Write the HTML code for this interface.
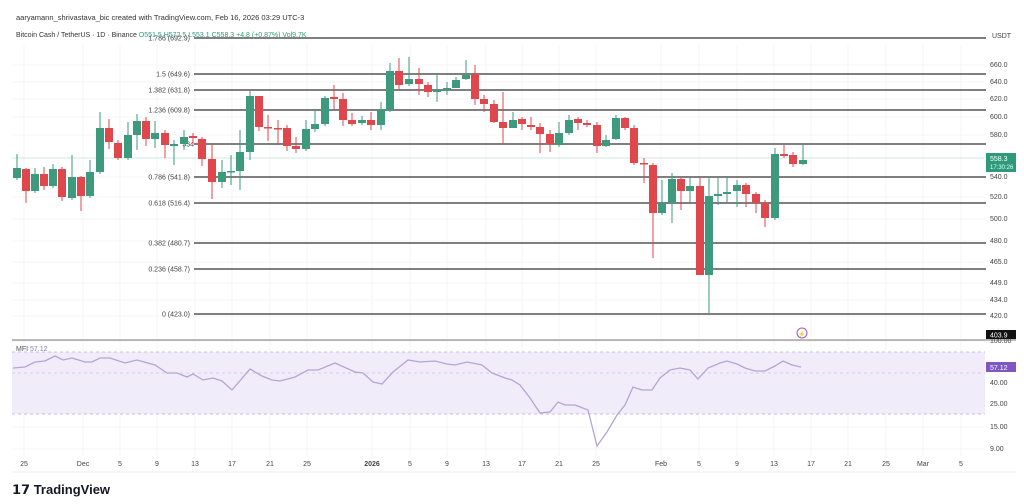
<!DOCTYPE html>
<html><head><meta charset="utf-8"><style>
body{margin:0;background:#fff;width:1024px;height:504px;overflow:hidden;font-family:"Liberation Sans",sans-serif}
svg{display:block}
text{font-family:"Liberation Sans",sans-serif}
</style></head><body>
<svg id="s" width="1024" height="504" viewBox="0 0 1024 504" xmlns="http://www.w3.org/2000/svg">
<rect width="1024" height="504" fill="#fff"/>
<g id="grid"></g>
<rect x="12" y="352" width="973" height="62" fill="#f1ecfa"/>
<line x1="12" y1="352" x2="985" y2="352" stroke="#b9a9d6" stroke-dasharray="3,3" stroke-width="0.8"/>
<line x1="12" y1="373" x2="985" y2="373" stroke="#cfc4e4" stroke-dasharray="3,3" stroke-width="0.8"/>
<line x1="12" y1="414" x2="985" y2="414" stroke="#b9a9d6" stroke-dasharray="3,3" stroke-width="0.8"/>
<line x1="12" y1="340" x2="1016" y2="340" stroke="#777" stroke-width="1"/>
<g id="fib"></g>
<g id="candles"></g>
<polyline id="mfi" fill="none" stroke="#b2a6d4" stroke-width="1.3"/>
<g id="axis" font-size="7" fill="#444"></g>
<text x="16" y="20" font-size="7.5" fill="#333">aaryamann_shrivastava_bic created with TradingView.com, Feb 16, 2026 03:29 UTC-3</text>
<text x="16" y="37" font-size="7" fill="#333">Bitcoin Cash / TetherUS · 1D · Binance <tspan fill="#2e9a7a">O551.5 H572.5 L553.1 C558.3 +4.8 (+0.87%) Vol9.7K</tspan></text>
<text x="16" y="351" font-size="7" fill="#555">MFI <tspan fill="#8a7cc0">57.12</tspan></text>
<circle cx="802" cy="333" r="5" fill="#fff" stroke="#9b59b6" stroke-width="1"/>
<text x="802" y="336" font-size="6" fill="#9b59b6" text-anchor="middle">⚡</text>
<rect x="986" y="153" width="30" height="19" fill="#2e9a7a"/>
<text x="990" y="161" font-size="7" fill="#fff">558.3</text>
<text x="990" y="169" font-size="6" fill="#dff">17:30:26</text>
<rect x="986" y="330" width="30" height="9" fill="#111"/>
<text x="990" y="337.5" font-size="7" fill="#fff">403.9</text>
<rect x="986" y="362" width="30" height="10" fill="#7e57c2"/>
<text x="990" y="370" font-size="7" fill="#fff">57.12</text>
<text x="12" y="494" font-size="13" font-weight="bold" fill="#131722">𝟭𝟳 TradingView</text>
</svg>
<script>
const NS="http://www.w3.org/2000/svg";
function el(p,t,a,txt){const e=document.createElementNS(NS,t);for(const k in a)e.setAttribute(k,a[k]);if(txt!==undefined)e.textContent=txt;document.getElementById(p).appendChild(e);return e;}
const dates=[[24,"25"],[83,"Dec"],[120,"5"],[157,"9"],[195,"13"],[232,"17"],[270,"21"],[307,"25"],[372,"2026"],[410,"5"],[447,"9"],[486,"13"],[522,"17"],[559,"21"],[596,"25"],[661,"Feb"],[699,"5"],[737,"9"],[774,"13"],[811,"17"],[848,"21"],[886,"25"],[923,"Mar"],[961,"5"]];
dates.forEach(d=>{el("grid","line",{x1:d[0],y1:45,x2:d[0],y2:456,stroke:"#f5f5f7","stroke-width":1});
el("axis","text",{x:d[0],y:466,"text-anchor":"middle","font-weight":d[1]=="2026"?"bold":"normal"},d[1]);});
const pr=[[67,"660.0"],[84,"640.0"],[101,"620.0"],[119,"600.0"],[137,"580.0"],[179,"540.0"],[199,"520.0"],[221,"500.0"],[243,"480.0"],[264,"465.0"],[285,"449.0"],[302,"434.0"],[318,"420.0"],[343,"100.00"],[385,"40.00"],[406,"25.00"],[429,"15.00"],[451,"9.00"]];
pr.forEach(p=>{el("grid","line",{x1:12,y1:p[0]-2,x2:985,y2:p[0]-2,stroke:"#f6f6f8","stroke-width":1});el("axis","text",{x:990,y:p[0]},p[1]);});
el("axis","text",{x:992,y:38},"USDT");
el("grid","line",{x1:12,y1:472,x2:1016,y2:472,stroke:"#eee"});
const fib=[[38,"1.786 (692.9)"],[74,"1.5 (649.6)"],[90,"1.382 (631.8)"],[110,"1.236 (609.8)"],[144,"(534?)"],[177,"0.786 (541.8)"],[203,"0.618 (516.4)"],[243,"0.382 (480.7)"],[269,"0.236 (458.7)"],[314,"0 (423.0)"]];
fib.forEach(f=>{el("fib","line",{x1:194,y1:f[0],x2:986,y2:f[0],stroke:"#333","stroke-width":1.3});
el("fib","text",{x:f[1]=="(534?)"?194:190,y:f[0]+2.5,"font-size":7,fill:"#444","text-anchor":"end"},f[1]=="(534?)"?"534":f[1]);});
el("grid","line",{x1:12,y1:158,x2:985,y2:158,stroke:"#9ccfbd","stroke-width":0.6});
const C=[[17,168,178,154,180,"G"],[26,169,191,168,203,"R"],[35,174,191,168,193,"G"],[44,174,186,167,190,"R"],[53,169,186,164,188,"G"],[62,169,197,167,201,"R"],[72,177,198,155,200,"G"],[81,177,196,176,211,"R"],[90,172,196,160,198,"G"],[100,128,172,112,174,"G"],[109,128,142,119,149,"R"],[118,143,158,140,160,"R"],[128,135,158,122,160,"G"],[137,121,135,114,150,"G"],[146,121,139,117,146,"R"],[155,133,139,121,148,"G"],[165,133,145,130,158,"R"],[174,144,146,140,165,"G"],[184,137,144,130,150,"G"],[193,136,138,133,144,"R"],[202,139,159,137,166,"R"],[212,159,182,145,199,"R"],[222,172,182,160,188,"G"],[231,171,172,155,185,"G"],[240,152,171,130,190,"G"],[250,96,152,91,160,"G"],[259,96,127,96,131,"R"],[268,127,128,115,141,"R"],[278,128,129,120,145,"R"],[287,128,146,125,151,"R"],[296,146,149,137,153,"R"],[306,129,149,120,151,"G"],[315,124,129,109,132,"G"],[325,98,124,96,126,"G"],[334,97,99,85,110,"R"],[343,99,120,93,126,"R"],[352,120,124,113,126,"R"],[362,120,123,116,125,"G"],[371,120,125,112,130,"R"],[381,110,125,102,130,"G"],[390,71,110,63,112,"G"],[399,71,85,58,90,"R"],[409,79,84,57,86,"G"],[419,79,84,68,95,"R"],[428,85,92,82,97,"R"],[437,90,92,73,102,"G"],[447,88,90,82,95,"G"],[456,80,88,77,88,"G"],[466,75,79,60,80,"G"],[475,74,99,65,105,"R"],[484,99,104,95,112,"R"],[494,104,122,100,123,"R"],[503,122,128,92,143,"R"],[513,120,128,112,128,"G"],[522,119,124,117,130,"R"],[531,125,127,117,130,"R"],[540,127,134,123,153,"R"],[550,134,144,130,152,"R"],[559,133,145,122,147,"G"],[569,120,133,115,135,"G"],[578,119,123,117,130,"R"],[587,123,125,120,127,"R"],[597,125,146,122,153,"R"],[606,140,146,135,147,"G"],[616,118,139,115,140,"G"],[625,118,128,117,130,"R"],[634,128,163,125,165,"R"],[644,163,164,158,183,"R"],[653,165,213,163,258,"R"],[662,203,213,180,215,"G"],[672,179,203,173,223,"G"],[681,179,191,177,210,"R"],[690,186,191,177,202,"G"],[700,186,275,177,275,"R"],[709,196,275,177,313,"G"],[718,194,196,178,205,"G"],[727,192,194,177,203,"G"],[737,185,191,180,207,"G"],[746,185,194,183,207,"R"],[756,194,203,192,213,"R"],[765,203,218,200,227,"R"],[775,154,218,148,220,"G"],[784,154,156,145,158,"R"],[793,155,164,152,167,"R"],[803,160,164,145,165,"G"]];
C.forEach(c=>{const col=c[5]=="G"?"#3d9a7c":"#e0474c";
el("candles","line",{x1:c[0],y1:c[3],x2:c[0],y2:c[4],stroke:col,"stroke-width":1});
el("candles","rect",{x:c[0]-4,y:c[1],width:8,height:Math.max(1.5,c[2]-c[1]),fill:col});});
const M=[[13,368],[25,367],[35,362],[45,361],[55,356],[63,360],[72,358],[85,362],[92,362],[100,358],[110,358],[125,363],[137,360],[155,365],[167,373],[177,373],[187,377],[193,374],[203,380],[213,378],[222,381],[232,390],[250,369],[262,376],[272,380],[280,381],[295,377],[308,370],[318,370],[335,363],[355,372],[363,373],[373,382],[382,384],[393,372],[408,360],[420,362],[435,361],[447,364],[455,365],[467,362],[482,365],[492,373],[505,378],[512,380],[520,385],[530,398],[540,413],[550,412],[558,402],[565,405],[575,405],[588,410],[597,446],[607,432],[617,415],[625,405],[633,387],[642,390],[652,390],[660,378],[670,370],[680,368],[690,370],[698,379],[708,368],[720,363],[727,361],[737,364],[745,368],[755,371],[765,371],[775,366],[783,361],[792,365],[801,367]];
document.getElementById("mfi").setAttribute("points",M.map(p=>p.join(",")).join(" "));
</script>
</body></html>
